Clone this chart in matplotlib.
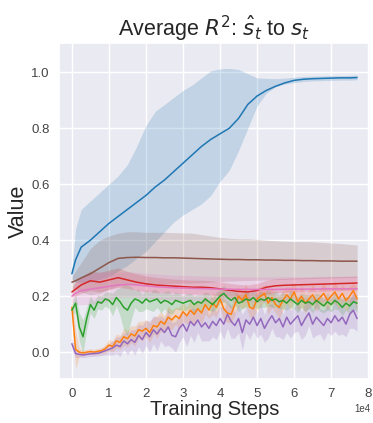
import numpy as np
import matplotlib
matplotlib.use("Agg")
import matplotlib.pyplot as plt
import seaborn as sns

# coarse grid for the smooth curves, fine grid for the noisy ones
smooth_steps = [0, 1000, 2500, 5000, 7500, 10000, 12500, 15000, 17500, 20000,
                22500, 25000, 27500, 30000, 32500, 35000, 37500, 40000, 42500,
                45000, 47500, 50000, 52500, 55000, 57500, 60000, 62500, 65000,
                67500, 70000, 72500, 75000, 77000]
fine_steps = np.arange(0, 78000, 1000)

blue_mean = [0.28, 0.33, 0.375, 0.40, 0.43, 0.46, 0.485, 0.51, 0.535, 0.56,
             0.59, 0.615, 0.645, 0.675, 0.705, 0.735, 0.76, 0.78, 0.80,
             0.835, 0.885, 0.915, 0.935, 0.95, 0.962, 0.971, 0.975, 0.977,
             0.978, 0.979, 0.98, 0.98, 0.981]
blue_hi = [0.30, 0.44, 0.51, 0.54, 0.57, 0.60, 0.63, 0.67, 0.735, 0.81,
           0.86, 0.885, 0.91, 0.935, 0.955, 0.98, 1.005, 1.012, 1.014,
           1.01, 0.995, 0.98, 0.978, 0.977, 0.979, 0.982, 0.985, 0.986,
           0.987, 0.988, 0.988, 0.989, 0.99]
blue_lo = [0.26, 0.25, 0.25, 0.25, 0.26, 0.27, 0.29, 0.31, 0.335, 0.36,
           0.395, 0.43, 0.465, 0.49, 0.51, 0.53, 0.56, 0.61, 0.65,
           0.72, 0.80, 0.88, 0.925, 0.948, 0.958, 0.963, 0.967, 0.969,
           0.97, 0.971, 0.972, 0.972, 0.973]

brown_mean = [0.25, 0.255, 0.265, 0.28, 0.30, 0.32, 0.335, 0.338, 0.339, 0.338,
              0.338, 0.337, 0.337, 0.336, 0.335, 0.334, 0.333, 0.332, 0.331,
              0.331, 0.330, 0.330, 0.329, 0.329, 0.328, 0.328, 0.327, 0.327,
              0.326, 0.326, 0.325, 0.325, 0.325]
brown_hi = [0.27, 0.29, 0.32, 0.37, 0.40, 0.415, 0.425, 0.43, 0.43, 0.428,
            0.428, 0.428, 0.427, 0.426, 0.425, 0.42, 0.415, 0.41, 0.407,
            0.405, 0.405, 0.403, 0.40, 0.398, 0.396, 0.395, 0.395, 0.394,
            0.392, 0.39, 0.388, 0.385, 0.383]
brown_lo = [0.23, 0.225, 0.215, 0.205, 0.21, 0.225, 0.235, 0.24, 0.244, 0.244,
            0.245, 0.245, 0.246, 0.246, 0.247, 0.248, 0.25, 0.252, 0.254,
            0.255, 0.256, 0.257, 0.258, 0.259, 0.26, 0.261, 0.262, 0.263,
            0.264, 0.265, 0.266, 0.267, 0.267]

red_mean = [0.215, 0.225, 0.24, 0.255, 0.25, 0.258, 0.266, 0.258, 0.25, 0.244,
            0.24, 0.238, 0.236, 0.234, 0.232, 0.232, 0.23, 0.226, 0.221,
            0.217, 0.215, 0.22, 0.232, 0.237, 0.239, 0.24, 0.241, 0.242,
            0.243, 0.244, 0.245, 0.246, 0.247]
red_sd = [0.015, 0.025, 0.03, 0.035, 0.035, 0.035, 0.035, 0.03, 0.03, 0.028,
          0.027, 0.026, 0.025, 0.025, 0.025, 0.025, 0.025, 0.025, 0.025,
          0.025, 0.025, 0.025, 0.025, 0.025, 0.025, 0.025, 0.025, 0.025,
          0.025, 0.025, 0.025, 0.025, 0.025]

pink_mean = [0.20, 0.21, 0.22, 0.225, 0.23, 0.235, 0.24, 0.242, 0.24, 0.237,
             0.234, 0.232, 0.23, 0.229, 0.228, 0.227, 0.226, 0.225, 0.225,
             0.224, 0.224, 0.224, 0.224, 0.224, 0.225, 0.225, 0.225, 0.225,
             0.226, 0.226, 0.226, 0.226, 0.226]
pink_sd = [0.02, 0.04, 0.05, 0.055, 0.055, 0.05, 0.045, 0.045, 0.045, 0.045,
           0.045, 0.045, 0.045, 0.045, 0.045, 0.045, 0.045, 0.045, 0.045,
           0.045, 0.045, 0.045, 0.045, 0.045, 0.045, 0.045, 0.045, 0.045,
           0.045, 0.045, 0.045, 0.045, 0.045]

orange_mean = [0.16, 0.01, 0.0, -0.003, 0.0, 0.002, 0.0, 0.003, 0.005, 0.012,
               0.025, 0.02, 0.04, 0.035, 0.055, 0.048, 0.065, 0.058, 0.08, 0.075,
               0.085, 0.07, 0.095, 0.09, 0.11, 0.10, 0.125, 0.115, 0.13, 0.12,
               0.145, 0.13, 0.15, 0.135, 0.155, 0.14, 0.17, 0.15, 0.175, 0.16,
               0.19, 0.155, 0.14, 0.135, 0.17, 0.2, 0.185, 0.205, 0.16, 0.155,
               0.19, 0.2, 0.21, 0.175, 0.195, 0.17, 0.16, 0.185, 0.205, 0.19,
               0.215, 0.18, 0.2, 0.175, 0.19, 0.205, 0.18, 0.195, 0.21, 0.185,
               0.2, 0.215, 0.19, 0.21, 0.185, 0.2, 0.22, 0.19]
orange_sd = [0.04, 0.07, 0.015, 0.01, 0.01, 0.01, 0.01, 0.01, 0.012, 0.015,
             0.02, 0.02, 0.025, 0.025, 0.03, 0.03, 0.03, 0.035, 0.03, 0.035,
             0.03, 0.035, 0.03, 0.04, 0.035, 0.03, 0.04, 0.035, 0.03, 0.04,
             0.035, 0.03, 0.04, 0.035, 0.03, 0.04, 0.035, 0.03, 0.04, 0.035,
             0.03, 0.04, 0.035, 0.03, 0.04, 0.035, 0.03, 0.04, 0.035, 0.03,
             0.04, 0.035, 0.03, 0.04, 0.035, 0.03, 0.04, 0.035, 0.03, 0.04,
             0.035, 0.03, 0.04, 0.035, 0.03, 0.04, 0.035, 0.03, 0.04, 0.035,
             0.03, 0.04, 0.035, 0.03, 0.04, 0.035, 0.03, 0.04]

green_mean = [0.15, 0.175, 0.09, 0.055, 0.12, 0.17, 0.15, 0.18, 0.175, 0.19,
              0.185, 0.17, 0.195, 0.18, 0.16, 0.15, 0.175, 0.19, 0.185, 0.175,
              0.19, 0.18, 0.185, 0.19, 0.175, 0.185, 0.18, 0.17, 0.185, 0.18,
              0.175, 0.18, 0.185, 0.17, 0.18, 0.175, 0.19, 0.18, 0.17, 0.185,
              0.2, 0.21, 0.195, 0.185, 0.195, 0.175, 0.18, 0.19, 0.185, 0.195,
              0.18, 0.19, 0.185, 0.195, 0.185, 0.19, 0.18, 0.185, 0.175, 0.19,
              0.18, 0.17, 0.185, 0.175, 0.18, 0.17, 0.185, 0.175, 0.165, 0.18,
              0.17, 0.185, 0.175, 0.16, 0.175, 0.165, 0.18, 0.175]
green_sd = [0.02, 0.03, 0.05, 0.06, 0.04, 0.03, 0.03, 0.025, 0.025, 0.025,
            0.03, 0.04, 0.03, 0.05, 0.08, 0.09, 0.06, 0.03, 0.04, 0.03,
            0.035, 0.03, 0.04, 0.03, 0.035, 0.03, 0.04, 0.035, 0.03, 0.03,
            0.025, 0.03, 0.025, 0.03, 0.025, 0.03, 0.025, 0.03, 0.025, 0.03,
            0.025, 0.03, 0.025, 0.03, 0.025, 0.03, 0.025, 0.03, 0.025, 0.03,
            0.025, 0.03, 0.025, 0.03, 0.025, 0.03, 0.025, 0.03, 0.025, 0.03,
            0.025, 0.03, 0.025, 0.03, 0.025, 0.03, 0.025, 0.03, 0.025, 0.03,
            0.025, 0.03, 0.025, 0.03, 0.025, 0.03, 0.025, 0.03]

purple_mean = [0.03, -0.005, -0.008, -0.01, -0.008, -0.006, -0.005, -0.004, 0.0, 0.005,
               0.01, 0.015, 0.025, 0.02, 0.04, 0.03, 0.045, 0.035, 0.06, 0.045,
               0.07, 0.055, 0.08, 0.065, 0.085, 0.07, 0.09, 0.06, 0.055, 0.085,
               0.1, 0.075, 0.11, 0.095, 0.115, 0.09, 0.105, 0.085, 0.11, 0.095,
               0.12, 0.1, 0.135, 0.11, 0.095, 0.12, 0.07, 0.115, 0.1, 0.125,
               0.095, 0.12, 0.085, 0.11, 0.13, 0.105, 0.12, 0.09, 0.125, 0.1,
               0.115, 0.13, 0.095, 0.12, 0.14, 0.1, 0.125, 0.11, 0.095, 0.12,
               0.105, 0.13, 0.11, 0.125, 0.1, 0.135, 0.15, 0.12]
purple_sd = [0.02, 0.015, 0.01, 0.01, 0.01, 0.01, 0.01, 0.01, 0.012, 0.015,
             0.02, 0.025, 0.03, 0.035, 0.03, 0.04, 0.035, 0.045, 0.04, 0.05,
             0.045, 0.055, 0.05, 0.06, 0.045, 0.05, 0.065, 0.045, 0.055, 0.05,
             0.045, 0.055, 0.05, 0.06, 0.045, 0.05, 0.065, 0.045, 0.055, 0.05,
             0.045, 0.055, 0.05, 0.06, 0.045, 0.05, 0.065, 0.045, 0.055, 0.05,
             0.045, 0.055, 0.05, 0.06, 0.045, 0.05, 0.065, 0.045, 0.055, 0.05,
             0.045, 0.055, 0.05, 0.06, 0.045, 0.05, 0.065, 0.045, 0.055, 0.05,
             0.045, 0.055, 0.05, 0.06, 0.045, 0.05, 0.065, 0.045]


def band(mean, sd):
    mean = np.array(mean)
    sd = np.array(sd)
    return mean - sd, mean + sd


sns.set_theme(style="darkgrid")
plt.rcParams['font.family'] = ['Liberation Sans', 'DejaVu Sans']

fig = plt.figure(figsize=(3.73, 4.23), dpi=100)
ax = fig.add_axes([0.158, 0.104, 0.834, 0.794])

pal = sns.color_palette("tab10")

series = [
    (smooth_steps, blue_mean, blue_lo, blue_hi, pal[0]),
    (fine_steps, orange_mean) + band(orange_mean, orange_sd) + (pal[1],),
    (fine_steps, green_mean) + band(green_mean, green_sd) + (pal[2],),
    (smooth_steps, red_mean) + band(red_mean, red_sd) + (pal[3],),
    (fine_steps, purple_mean) + band(purple_mean, purple_sd) + (pal[4],),
    (smooth_steps, brown_mean, brown_lo, brown_hi, pal[5]),
    (smooth_steps, pink_mean) + band(pink_mean, pink_sd) + (pal[6],),
]

for x, m, lo, hi, c in series:
    ax.fill_between(x, lo, hi, color=c, alpha=0.2, linewidth=0)
    ax.plot(x, m, color=c, linewidth=1.1)

ax.set_xlim(-3500, 80500)
ax.set_ylim(-0.096, 1.104)
ax.set_xticks(np.arange(0, 80001, 10000))
ax.set_yticks([0.0, 0.2, 0.4, 0.6, 0.8, 1.0])
ax.ticklabel_format(axis='x', style='sci', scilimits=(0, 0))
ax.xaxis.get_offset_text().set_fontsize(7)
ax.tick_params(labelsize=9.5, pad=0.5, labelcolor='#444444')

ax.set_title(r"Average $R^2$: $\hat{s}_t$ to $s_t$", fontsize=15.5, pad=5)
ax.set_xlabel("Training Steps", fontsize=14.5, labelpad=0)
ax.set_ylabel("Value", fontsize=15.5, labelpad=2)

fig.savefig("out.png", dpi=100)
